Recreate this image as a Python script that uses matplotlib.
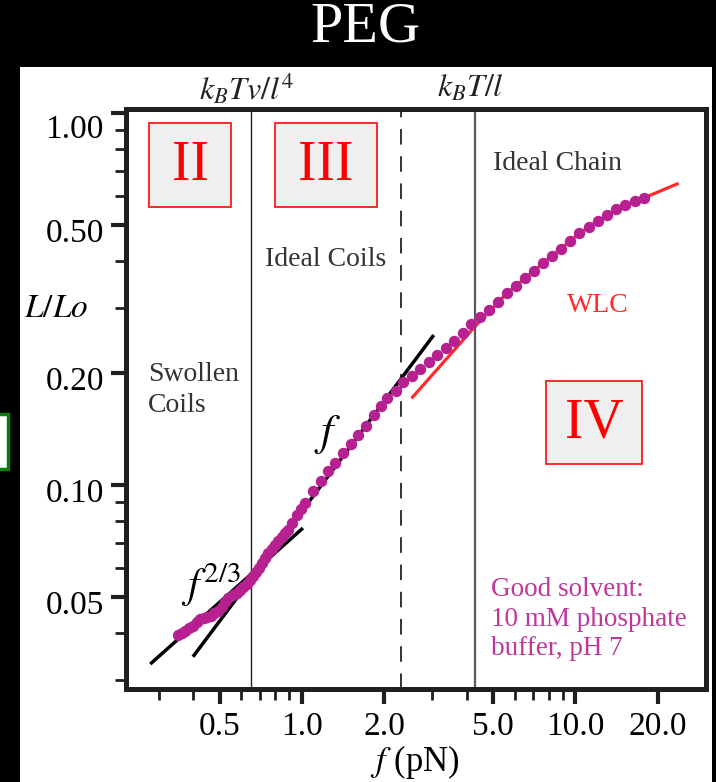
import matplotlib.pyplot as plt
from matplotlib.patches import Rectangle
from matplotlib.ticker import FixedLocator, FixedFormatter, NullFormatter
from matplotlib.transforms import ScaledTranslation

plt.rcParams['font.family'] = ['Liberation Serif', 'DejaVu Serif']
plt.rcParams['mathtext.fontset'] = 'stix'

W, H = 716, 782

# measured extension curve (force in pN, L/Lo)
f_data = [0.3536, 0.3640, 0.3741, 0.3870, 0.4012, 0.4130, 0.4244, 0.4370,
          0.4490, 0.4630, 0.4775, 0.4930, 0.5093, 0.5240, 0.5383, 0.5580,
          0.5776, 0.5940, 0.6105, 0.6280, 0.6457, 0.6620, 0.6795, 0.6960,
          0.7127, 0.7330, 0.7534, 0.7750, 0.7969, 0.8200, 0.8432, 0.8670,
          0.8913, 0.9230, 0.9565, 0.9900, 1.025, 1.0996, 1.170, 1.247,
          1.320, 1.408, 1.506, 1.606, 1.713, 1.836, 1.938, 2.048, 2.203,
          2.343, 2.535, 2.712, 2.908, 3.117, 3.354, 3.596, 3.879, 4.163,
          4.474, 4.826, 5.206, 5.614, 6.055, 6.531, 7.044, 7.598, 8.194,
          8.840, 9.565, 10.34, 11.18, 12.10, 13.05, 14.11, 15.22, 16.46, 17.86]
L_data = [0.03952, 0.0400, 0.04051, 0.0413, 0.04178, 0.0428, 0.04355, 0.0440,
          0.04410, 0.0446, 0.04519, 0.0460, 0.04709, 0.0485, 0.04960, 0.0506,
          0.05135, 0.0521, 0.05309, 0.0542, 0.05554, 0.0570, 0.05847, 0.0600,
          0.06158, 0.0636, 0.06552, 0.0672, 0.06899, 0.0708, 0.07261, 0.0741,
          0.07568, 0.0790, 0.08307, 0.0862, 0.08929, 0.09654, 0.1027, 0.1093,
          0.1148, 0.1217, 0.1289, 0.1363, 0.1441, 0.1542, 0.1631, 0.1710,
          0.1793, 0.1896, 0.1967, 0.2050, 0.2145, 0.2236, 0.2331, 0.2443,
          0.2567, 0.2704, 0.2829, 0.2960, 0.3098, 0.3276, 0.3420, 0.3594,
          0.3768, 0.3945, 0.4127, 0.4318, 0.4537, 0.4750, 0.4929, 0.5125,
          0.5309, 0.5510, 0.5659, 0.5789, 0.5920]

# worm-like chain fit
f_wlc = [2.514, 3.28, 4.28, 5.614, 6.531, 7.598, 8.840, 10.34, 12.10,
         14.11, 15.22, 17.86, 23.83]
L_wlc = [0.1710, 0.2132, 0.2664, 0.3276, 0.3594, 0.3945, 0.4318, 0.4750,
         0.5125, 0.5510, 0.5659, 0.5920, 0.6471]

# power-law guides
f_23 = [0.2788, 1.008]
L_23 = [0.03303, 0.07663]
f_1 = [0.3993, 3.032]
L_1 = [0.03455, 0.2530]

# regime boundaries (pN)
f_bounds = [0.652, 2.31, 4.28]

x_major = [0.5, 1.0, 2.0, 5.0, 10.0, 20.0]
x_major_lbl = ['0.5', '1.0', '2.0', '5.0', '10.0', '20.0']
x_minor = [0.3, 0.4, 0.6, 0.7, 0.8, 0.9, 3, 4, 6, 7, 8, 9]
y_major = [0.05, 0.10, 0.20, 0.50, 1.00]
y_major_lbl = ['0.05', '0.10', '0.20', '0.50', '1.00']
y_minor = [0.03, 0.04, 0.06, 0.07, 0.08, 0.09, 0.3, 0.4, 0.6, 0.7, 0.8, 0.9]


def fx(px):
    return px / W


def fy(py):
    return 1 - py / H


fig = plt.figure(figsize=(W / 100, H / 100), dpi=100, facecolor='black')
fig.patches.append(Rectangle((fx(20), 0), fx(692), fy(67),
                             transform=fig.transFigure, facecolor='white',
                             edgecolor='none', zorder=-5))
# partly hidden green box at the left border
fig.patches.append(Rectangle((fx(-60), fy(469)), fx(68), fy(414) - fy(469),
                             transform=fig.transFigure, facecolor='white',
                             edgecolor='#0a7d0a', lw=2.5, zorder=-4))

ax = fig.add_axes([fx(126), fy(689), fx(706) - fx(126), fy(109) - fy(689)])
ax.set_xscale('log')
ax.set_yscale('log')
ax.set_xlim(0.2273, 30.0)
ax.set_ylim(0.0283, 1.025)

ax.axvline(f_bounds[0], color='#222222', lw=1.0, zorder=1)
ax.axvline(f_bounds[1], color='#333333', lw=1.4, ls=(0, (8, 6)), zorder=1)
ax.axvline(f_bounds[2], color='#5a5a5a', lw=1.6, zorder=1)

ax.plot(f_23, L_23, color='black', lw=2.5, solid_capstyle='butt', zorder=2)
ax.plot(f_1, L_1, color='black', lw=2.5, solid_capstyle='butt', zorder=2)
ax.plot(f_wlc, L_wlc, color='#ff2a2a', lw=2.3, solid_capstyle='butt', zorder=3)
ax.plot(f_data, L_data, 'o', color='#b62090', ms=8.2, mec='none', zorder=4)

for s in ax.spines.values():
    s.set_linewidth(3.6)
    s.set_color('#1f1f1f')

ax.xaxis.set_major_locator(FixedLocator(x_major))
ax.xaxis.set_major_formatter(FixedFormatter(x_major_lbl))
ax.xaxis.set_minor_locator(FixedLocator(x_minor))
ax.xaxis.set_minor_formatter(NullFormatter())
ax.yaxis.set_major_locator(FixedLocator(y_major))
ax.yaxis.set_major_formatter(FixedFormatter(y_major_lbl))
ax.yaxis.set_minor_locator(FixedLocator(y_minor))
ax.yaxis.set_minor_formatter(NullFormatter())
ax.tick_params(which='major', length=11, width=3, color='#1f1f1f',
               labelsize=24, direction='out')
ax.tick_params(which='minor', length=8, width=2, color='#1f1f1f',
               direction='out')
ax.tick_params(axis='x', which='major', pad=5)
ax.tick_params(axis='y', which='major', pad=5)

# y tick labels sit a little below their ticks in the original
for v, lab in zip(y_major, ax.get_yticklabels()):
    dy = -13 if v == 1.0 else -5
    lab.set_transform(lab.get_transform() + ScaledTranslation(0, dy / 100, fig.dpi_scale_trans))

fig.text(fx(366), fy(28), 'PEG', color='white', fontsize=42,
         ha='center', va='center')
fig.text(fx(247), fy(89), r'$k_BTv/l^4$', fontsize=23, ha='center', va='center', color='#222222')
fig.text(fx(470), fy(89), r'$k_BT/l$', fontsize=23, ha='center', va='center', color='#222222')
fig.text(fx(415), fy(762), r'$f$ (pN)', fontsize=25, ha='center', va='center')
fig.text(fx(56), fy(309), r'$L/Lo$', fontsize=24, ha='center', va='center')

txt = dict(fontsize=20, color='#333333', va='center', ha='left')
fig.text(fx(148), fy(390), 'Swollen\nCoils', linespacing=1.3, **txt)
fig.text(fx(265), fy(260), 'Ideal Coils', **txt)
fig.text(fx(493), fy(164), 'Ideal Chain', **txt)
fig.text(fx(567), fy(305), 'WLC', fontsize=20, color='#ff2a2a', va='center', ha='left')
fig.text(fx(491), fy(619), 'Good solvent:\n10 mM phosphate\nbuffer, pH 7',
         fontsize=19.5, color='#c0379c', va='center', ha='left', linespacing=1.25)
fig.text(fx(328), fy(435), r'$f$', fontsize=32, ha='center', va='center')
fig.text(fx(211), fy(585), r'$f^{2/3}$', fontsize=30, ha='center', va='center')

for (x0, y0, x1, y1, lab) in [(149, 123, 231, 207, 'II'), (275, 123, 377, 207, 'III'),
                              (546, 381, 642, 464, 'IV')]:
    ax.add_patch(Rectangle((fx(x0), fy(y1)), fx(x1) - fx(x0), fy(y0) - fy(y1),
                           transform=fig.transFigure, facecolor='#efefef',
                           edgecolor='#ff1a1a', lw=1.3, zorder=5, clip_on=False))
    ax.text(fx((x0 + x1) / 2), fy((y0 + y1) / 2 + 1), lab, transform=fig.transFigure,
            fontsize=40, color='#ff0000', ha='center', va='center', zorder=6)

fig.savefig('out.png', dpi=100, facecolor='black')
